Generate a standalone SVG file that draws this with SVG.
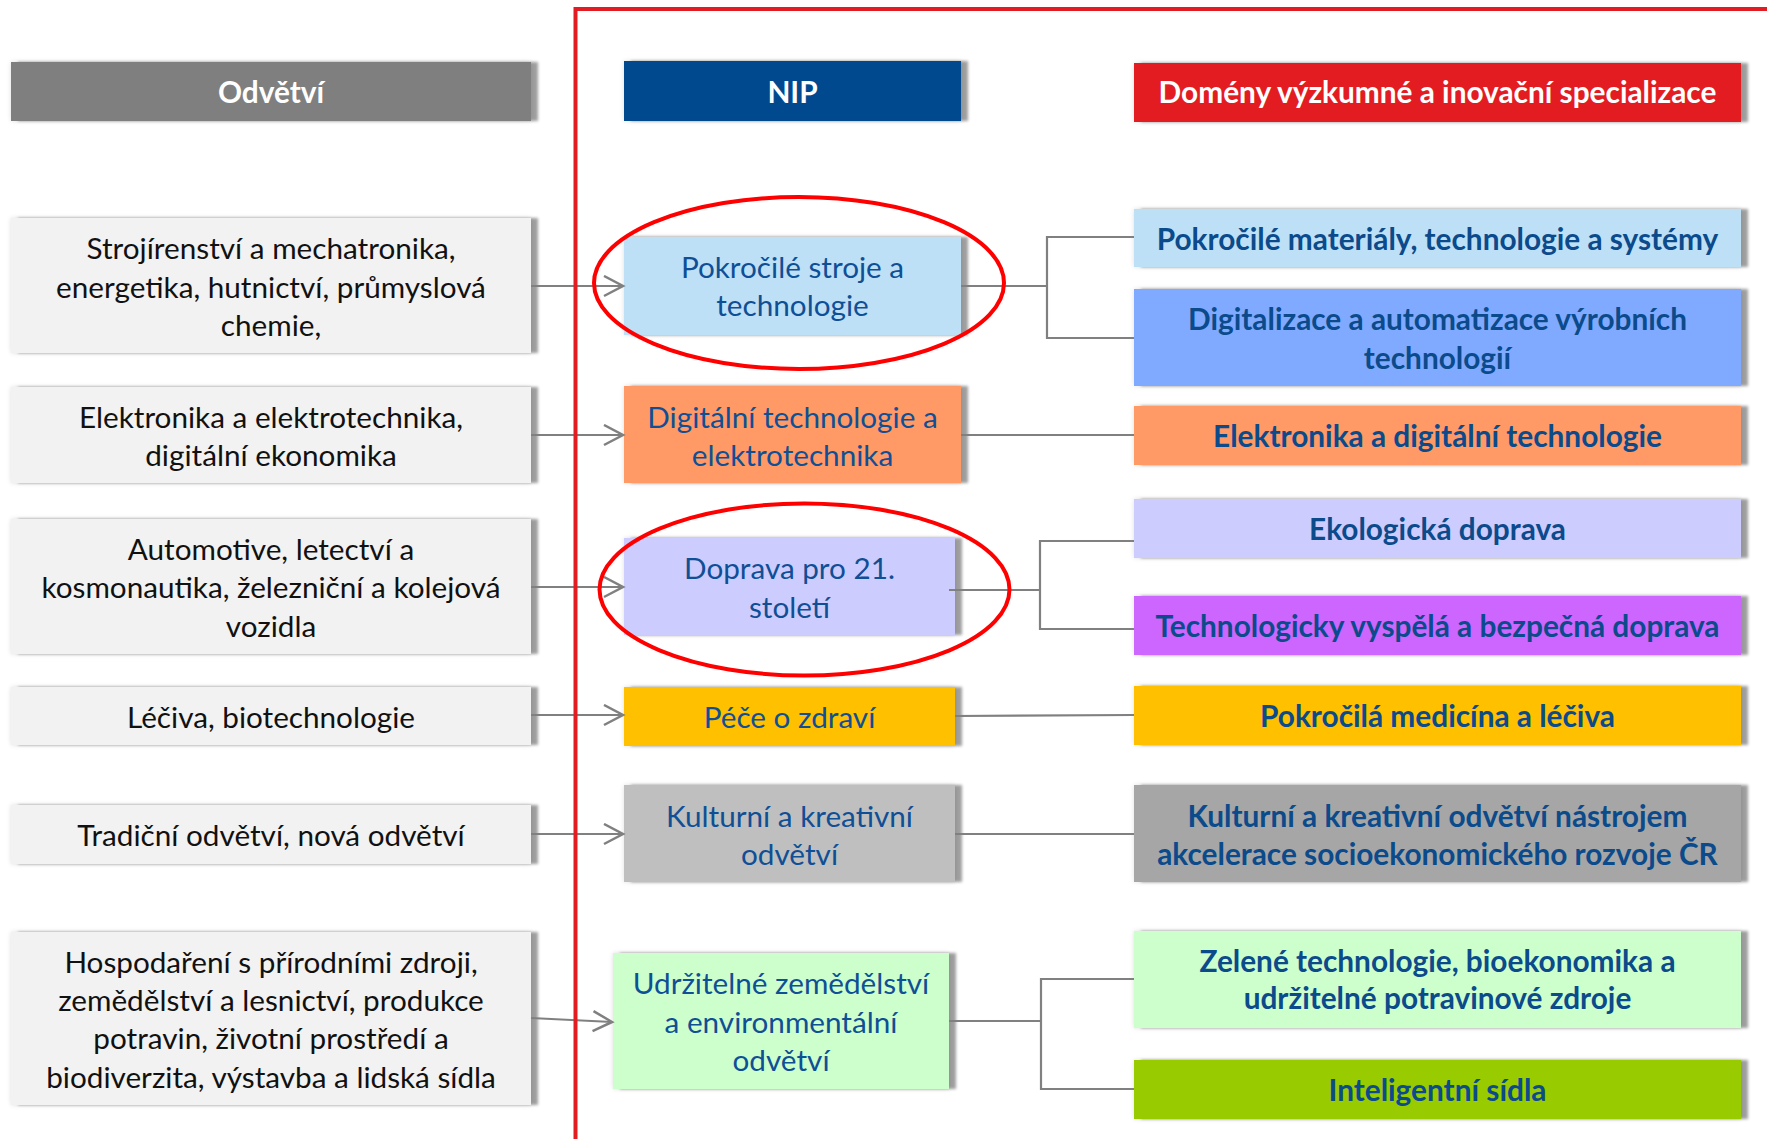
<svg xmlns="http://www.w3.org/2000/svg" width="1767" height="1139" viewBox="0 0 1767 1139">
<defs>
<style>
.t{font-family:Lato,"Liberation Sans",sans-serif;text-anchor:middle}
.l{font-size:29.7px;fill:#111}
.m{font-size:29.7px;fill:#0f4f95}
.r{font-size:29.8px;font-weight:bold;fill:#0b4a8b}
.h{font-size:29.8px;font-weight:bold;fill:#fff}
.cn{fill:none;stroke:#808080;stroke-width:2.2}
.ar{marker-end:url(#arr)}
.box{filter:url(#sh)}
.ell{fill:none;stroke:#ff0000;stroke-width:4}
</style>
<filter id="sh" x="-4%" y="-20%" width="112%" height="140%">
<feGaussianBlur in="SourceAlpha" stdDeviation="2.5" result="blur"/>
<feComponentTransfer in="blur" result="halo"><feFuncA type="linear" slope="0.13"/></feComponentTransfer>
<feOffset in="SourceAlpha" dx="7" dy="0" result="off"/>
<feGaussianBlur in="off" stdDeviation="1.8" result="offb"/>
<feComponentTransfer in="offb" result="side"><feFuncA type="linear" slope="0.38"/></feComponentTransfer>
<feMerge><feMergeNode in="halo"/><feMergeNode in="side"/><feMergeNode in="SourceGraphic"/></feMerge>
</filter>
<marker id="arr" markerUnits="userSpaceOnUse" markerWidth="24" markerHeight="24" refX="20" refY="11" orient="auto">
<path d="M1,1 L20,11 L1,21" fill="none" stroke="#808080" stroke-width="2.5"/>
</marker>
</defs>
<rect width="1767" height="1139" fill="#fff"/>

<!-- headers -->
<g id="h-odvetvi"><rect class="box" x="11" y="62" width="520" height="59" fill="#7f7f7f"/><text class="t h" x="271" y="103">Odvětví</text></g>
<g id="h-nip"><rect class="box" x="624" y="61" width="337" height="60" fill="#004a8e"/><text class="t h" x="792.5" y="103">NIP</text></g>
<g id="h-domeny"><rect class="box" x="1134" y="63" width="607" height="59" fill="#e31c23"/><text class="t h" x="1437.5" y="103">Domény výzkumné a inovační specializace</text></g>

<!-- left column -->
<g id="o1"><rect class="box" x="11" y="218" width="520" height="135" fill="#f2f2f2"/>
<text class="t l" x="271" y="259">Strojírenství a mechatronika,</text>
<text class="t l" x="271" y="297.5">energetika, hutnictví, průmyslová</text>
<text class="t l" x="271" y="336">chemie,</text></g>
<g id="o2"><rect class="box" x="11" y="387" width="520" height="96" fill="#f2f2f2"/>
<text class="t l" x="271" y="428">Elektronika a elektrotechnika,</text>
<text class="t l" x="271" y="466">digitální ekonomika</text></g>
<g id="o3"><rect class="box" x="11" y="519" width="520" height="135" fill="#f2f2f2"/>
<text class="t l" x="271" y="559.5">Automotive, letectví a</text>
<text class="t l" x="271" y="598">kosmonautika, železniční a kolejová</text>
<text class="t l" x="271" y="636.5">vozidla</text></g>
<g id="o4"><rect class="box" x="11" y="687" width="520" height="58" fill="#f2f2f2"/>
<text class="t l" x="271" y="728">Léčiva, biotechnologie</text></g>
<g id="o5"><rect class="box" x="11" y="805" width="520" height="59" fill="#f2f2f2"/>
<text class="t l" x="271" y="846">Tradiční odvětví, nová odvětví</text></g>
<g id="o6"><rect class="box" x="11" y="932" width="520" height="173" fill="#f2f2f2"/>
<text class="t l" x="271" y="973">Hospodaření s přírodními zdroji,</text>
<text class="t l" x="271" y="1011">zemědělství a lesnictví, produkce</text>
<text class="t l" x="271" y="1049">potravin, životní prostředí a</text>
<text class="t l" x="271" y="1088">biodiverzita, výstavba a lidská sídla</text></g>

<!-- middle column -->
<g id="n1"><rect class="box" x="624" y="237" width="337" height="98" fill="#bde0f7"/>
<text class="t m" x="792.5" y="278">Pokročilé stroje a</text>
<text class="t m" x="792.5" y="316">technologie</text></g>
<g id="n2"><rect class="box" x="624" y="386" width="337" height="97" fill="#ff9966"/>
<text class="t m" x="792.5" y="428">Digitální technologie a</text>
<text class="t m" x="792.5" y="466">elektrotechnika</text></g>
<g id="n3"><rect class="box" x="624" y="538" width="331" height="97" fill="#ccccff"/>
<text class="t m" x="789.5" y="579">Doprava pro 21.</text>
<text class="t m" x="789.5" y="618">století</text></g>
<g id="n4"><rect class="box" x="624" y="687" width="331" height="59" fill="#ffc000"/>
<text class="t m" x="789.5" y="728">Péče o zdraví</text></g>
<g id="n5"><rect class="box" x="624" y="785" width="331" height="97" fill="#bfbfbf"/>
<text class="t m" x="789.5" y="827">Kulturní a kreativní</text>
<text class="t m" x="789.5" y="865">odvětví</text></g>
<g id="n6"><rect class="box" x="613" y="953" width="336" height="136" fill="#ccffcc"/>
<text class="t m" x="781" y="994">Udržitelné zemědělství</text>
<text class="t m" x="781" y="1033">a environmentální</text>
<text class="t m" x="781" y="1071">odvětví</text></g>

<!-- right column -->
<g id="d1"><rect class="box" x="1134" y="209" width="607" height="58" fill="#bde0f7"/>
<text class="t r" x="1437.5" y="249.5">Pokročilé materiály, technologie a systémy</text></g>
<g id="d2"><rect class="box" x="1134" y="289" width="607" height="97" fill="#7faaff"/>
<text class="t r" x="1437.5" y="330">Digitalizace a automatizace výrobních</text>
<text class="t r" x="1437.5" y="369">technologií</text></g>
<g id="d3"><rect class="box" x="1134" y="406" width="607" height="59" fill="#ff9966"/>
<text class="t r" x="1437.5" y="447">Elektronika a digitální technologie</text></g>
<g id="d4"><rect class="box" x="1134" y="499" width="607" height="59" fill="#ccccff"/>
<text class="t r" x="1437.5" y="540">Ekologická doprava</text></g>
<g id="d5"><rect class="box" x="1134" y="596" width="607" height="59" fill="#cc66ff"/>
<text class="t r" x="1437.5" y="637">Technologicky vyspělá a bezpečná doprava</text></g>
<g id="d6"><rect class="box" x="1134" y="686" width="607" height="59" fill="#ffc000"/>
<text class="t r" x="1437.5" y="727">Pokročilá medicína a léčiva</text></g>
<g id="d7"><rect class="box" x="1134" y="785" width="607" height="97" fill="#a6a6a6"/>
<text class="t r" x="1437.5" y="827">Kulturní a kreativní odvětví nástrojem</text>
<text class="t r" x="1437.5" y="865">akcelerace socioekonomického rozvoje ČR</text></g>
<g id="d8"><rect class="box" x="1134" y="931" width="607" height="97" fill="#ccffcc"/>
<text class="t r" x="1437.5" y="972">Zelené technologie, bioekonomika a</text>
<text class="t r" x="1437.5" y="1009">udržitelné potravinové zdroje</text></g>
<g id="d9"><rect class="box" x="1134" y="1060" width="607" height="59" fill="#99cc00"/>
<text class="t r" x="1437.5" y="1100.5">Inteligentní sídla</text></g>

<!-- connectors -->
<g id="connectors">
<line class="cn ar" x1="531" y1="286" x2="623" y2="286"/>
<line class="cn ar" x1="531" y1="435" x2="623" y2="435"/>
<line class="cn ar" x1="531" y1="587" x2="623" y2="587"/>
<line class="cn ar" x1="531" y1="715" x2="623" y2="715"/>
<line class="cn ar" x1="531" y1="834" x2="623" y2="834"/>
<line class="cn ar" x1="531" y1="1018" x2="612" y2="1022"/>
<polyline class="cn" points="961,286 1047,286"/>
<polyline class="cn" points="1134,237 1047,237 1047,338 1134,338"/>
<polyline class="cn" points="961,435 1134,435"/>
<polyline class="cn" points="949,590 1040,590"/>
<polyline class="cn" points="1134,541 1040,541 1040,629 1134,629"/>
<polyline class="cn" points="955,716 1134,715"/>
<polyline class="cn" points="955,834 1134,834"/>
<polyline class="cn" points="949,1021 1041,1021"/>
<polyline class="cn" points="1134,979 1041,979 1041,1089 1134,1089"/>
</g>

<!-- red frame and highlights -->
<g id="frame"><polyline points="575.5,1139 575.5,9 1767,9" fill="none" stroke="#e31c23" stroke-width="4"/></g>
<g id="highlights">
<ellipse class="ell" cx="799" cy="283" rx="205" ry="86"/>
<ellipse class="ell" cx="804.5" cy="589.5" rx="205" ry="86"/>
</g>
</svg>
